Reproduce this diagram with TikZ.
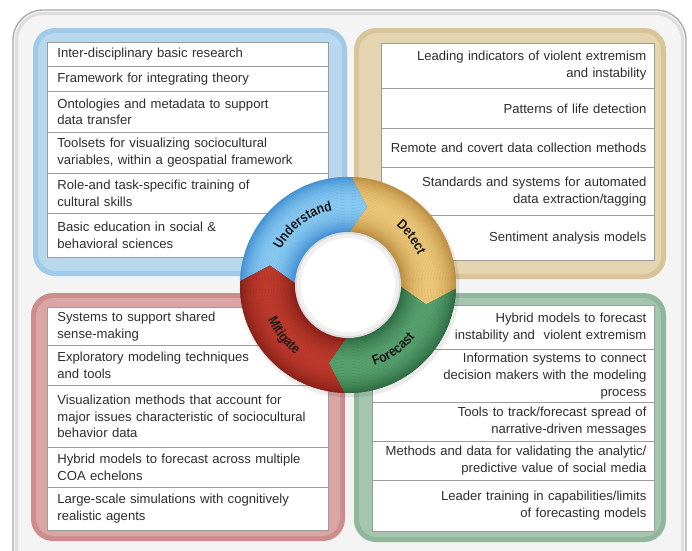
\documentclass[tikz,border=0pt]{standalone}
\usepackage{fontspec}
\setmainfont{Liberation Sans}
\newfontfamily\ringfamily[FakeStretch=0.86]{Liberation Sans}
\usetikzlibrary{decorations.text}

% text and list colours
\definecolor{txt}{HTML}{2E2E2E}
\definecolor{sep}{HTML}{9C9C9C}
\definecolor{framefill}{HTML}{F4F4F4}
\definecolor{frameedge}{HTML}{A9A9A9}
\definecolor{framein}{HTML}{DEDEDE}
% panel colours (rim / body)
\definecolor{pbRim}{HTML}{A2C9E7}\definecolor{pbBody}{HTML}{B8D8EE}
\definecolor{ptRim}{HTML}{D8C496}\definecolor{ptBody}{HTML}{E4D4B0}
\definecolor{prRim}{HTML}{CE8D8D}\definecolor{prBody}{HTML}{DAA5A5}
\definecolor{pgRim}{HTML}{90B79B}\definecolor{pgBody}{HTML}{A5C6AE}
% ring colours: dark edge / light centre of each band
\definecolor{rbD}{HTML}{3B8AD0}\definecolor{rbL}{HTML}{88C9F1}
\definecolor{ryD}{HTML}{B5873A}\definecolor{ryL}{HTML}{EBC678}
\definecolor{rgD}{HTML}{28653D}\definecolor{rgL}{HTML}{57A06D}
\definecolor{rrD}{HTML}{851D17}\definecolor{rrL}{HTML}{BC3A2C}
\definecolor{labelink}{HTML}{1A1A1A}

\newcommand\listfont{\fontsize{13.1}{16.8}\selectfont}
\newcommand\ringlabel{\ringfamily\bfseries\fontsize{14}{16}\selectfont\color{labelink}}

% ring radii
\def\Ro{108}
\def\Ri{53}
\def\Rm{80.5}

% one arrow-shaped band segment between polar angles #1 and #2 (tip 12 degrees past #2),
% shaded from dark edges (#3) to a light middle (#4) with concentric strokes
\newcommand\ringseg[4]{%
  \begin{scope}
    \clip (#1:\Ro) arc[start angle=#1, end angle=#2, radius=\Ro]
      -- ({#2+12}:\Rm) -- (#2:\Ri) arc[start angle=#2, end angle=#1, radius=\Ri]
      -- ({#1+12}:\Rm) -- cycle;
    \fill[#3] (0,0) circle[radius=110];
    \foreach \r in {52,53.5,...,109} {
      \pgfmathtruncatemacro\t{max(0,100*(1-((\r-81)/29)^2))}
      \draw[line width=1.7pt, #4!\t!#3] (0,0) circle[radius=\r];
    }
  \end{scope}}

\begin{document}
\begin{tikzpicture}[x=1pt, y=-1pt,
  rowbox/.style={draw=sep, fill=white, line width=0.8pt, inner ysep=0pt,
    text=txt, font=\listfont, anchor=north west, minimum height=#1},
  leftrow/.style={rowbox=#1, inner xsep=10pt, text width=261pt, align=left},
  rightrow/.style={rowbox=#1, inner xsep=8pt, align=right},
  ringtext/.style={decorate, decoration={text along path, text align=center,
    text={|\ringlabel|#1}}}]

\useasboundingbox (0,0) rectangle (692,550);
\clip (0,0) rectangle (692,550);
\fill[white] (0,0) rectangle (692,550);

% outer frame (runs past the lower edge)
\filldraw[fill=framefill, draw=frameedge, line width=1.3pt, rounded corners=30pt]
  (13,10) rectangle (686,590);
\draw[framein, line width=3pt, rounded corners=27pt] (16.5,13.5) rectangle (682.5,590);

% four coloured panels
\fill[pbRim, rounded corners=22pt] (33,28) rectangle (347,276);
\fill[pbBody, rounded corners=18pt] (38,33) rectangle (342,271);
\fill[ptRim, rounded corners=22pt] (354,28) rectangle (666,279);
\fill[ptBody, rounded corners=18pt] (359,33) rectangle (661,274);
\fill[prRim, rounded corners=22pt] (31,293) rectangle (345,541);
\fill[prBody, rounded corners=18pt] (36,298) rectangle (340,536);
\fill[pgRim, rounded corners=22pt] (354,293) rectangle (666,542);
\fill[pgBody, rounded corners=18pt] (359,298) rectangle (661,537);

% Understand list
\node[leftrow=24pt] (u1) at (47,42) {Inter-disciplinary basic research};
\node[leftrow=25pt] (u2) at (47,66) {Framework for integrating theory};
\node[leftrow=41pt] (u3) at (47,91) {Ontologies and metadata to support\\data transfer};
\node[leftrow=41pt] (u4) at (47,132) {Toolsets for visualizing sociocultural\\variables, within a geospatial framework};
\node[leftrow=40pt] (u5) at (47,173) {Role-and task-specific training of\\cultural skills};
\node[leftrow=44pt] (u6) at (47,213) {Basic education in social \&\\behavioral sciences};

% Detect list
\node[rightrow=45pt, text width=257pt] (d1) at (381,43) {Leading indicators of violent extremism\\and instability};
\node[rightrow=40pt, text width=257pt] (d2) at (381,88) {Patterns of life detection};
\node[rightrow=39pt, text width=257pt] (d3) at (381,128) {Remote and covert data collection methods};
\node[rightrow=48pt, text width=257pt] (d4) at (381,167) {Standards and systems for automated\\data extraction/tagging};
\node[rightrow=45pt, text width=257pt] (d5) at (381,215) {Sentiment analysis models};

% Mitigate list
\node[leftrow=38pt] (m1) at (47,307) {Systems to support shared\\sense-making};
\node[leftrow=40pt] (m2) at (47,345) {Exploratory modeling techniques\\and tools};
\node[leftrow=62pt] (m3) at (47,385) {Visualization methods that account for\\major issues characteristic of sociocultural\\behavior data};
\node[leftrow=40pt] (m4) at (47,447) {Hybrid models to forecast across multiple\\COA echelons};
\node[leftrow=43pt] (m5) at (47,487) {Large-scale simulations with cognitively\\realistic agents};

% Forecast list
\node[rightrow=44pt, text width=266pt] (f1) at (372,305) {Hybrid models to forecast\\instability and\ \ violent extremism};
\node[rightrow=53pt, text width=266pt] (f2) at (372,349) {Information systems to connect\\decision makers with the modeling\\process};
\node[rightrow=39pt, text width=266pt] (f3) at (372,402) {Tools to track/forecast spread of\\narrative-driven messages};
\node[rightrow=39pt, text width=266pt] (f4) at (372,441) {Methods and data for validating the analytic/\\predictive value of social media};
\node[rightrow=51pt, text width=266pt] (f5) at (372,480) {Leader training in capabilities/limits\\of forecasting models};

% central cycle ring
\begin{scope}[shift={(348,285)}]
  \fill[black, opacity=0.08] (1.5,2.5) circle[radius=110];
  \ringseg{-178}{-88}{rbD}{rbL}
  \ringseg{-88}{2}{ryD}{ryL}
  \ringseg{2}{92}{rgD}{rgL}
  \ringseg{92}{182}{rrD}{rrL}
  \fill[black!14] (0,0) circle[radius=\Ri];
  \fill[black!6] (0,0) circle[radius=51];
  \fill[white] (0,0) circle[radius=47];
  \path[ringtext=Understand] (-172:76) arc[start angle=-172, end angle=-82, radius=76];
  \path[ringtext=Detect] (-82:76) arc[start angle=-82, end angle=8, radius=76];
  \path[ringtext=Forecast] (100:85) arc[start angle=100, end angle=10, radius=85];
  \path[ringtext=Mitigate] (187:87) arc[start angle=187, end angle=97, radius=87];
\end{scope}
\end{tikzpicture}
\end{document}
